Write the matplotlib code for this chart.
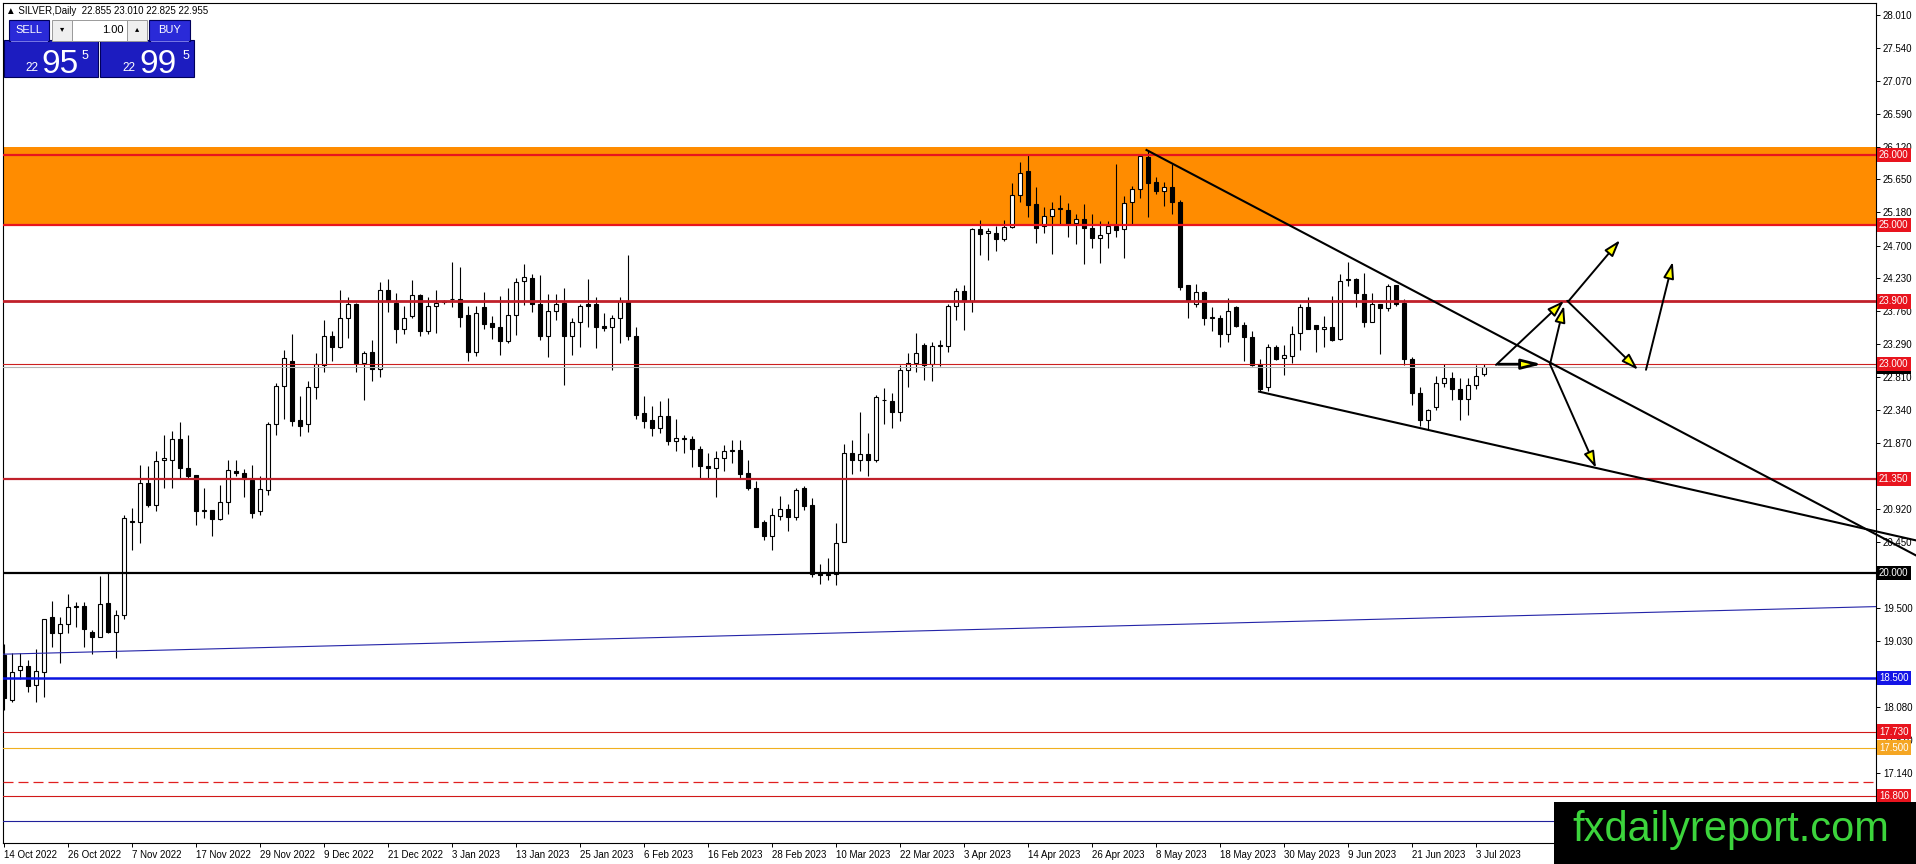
import matplotlib
matplotlib.use('Agg')
import matplotlib.pyplot as plt
from matplotlib.patches import Rectangle
import numpy as np

plt.rcParams['font.family'] = ['Liberation Sans', 'DejaVu Sans']
plt.rcParams['font.size'] = 7

# ---- data (SILVER daily) ----
date_labels = ['14 Oct 2022', '26 Oct 2022', '7 Nov 2022', '17 Nov 2022', '29 Nov 2022',
               '9 Dec 2022', '21 Dec 2022', '3 Jan 2023', '13 Jan 2023', '25 Jan 2023',
               '6 Feb 2023', '16 Feb 2023', '28 Feb 2023', '10 Mar 2023', '22 Mar 2023',
               '3 Apr 2023', '14 Apr 2023', '26 Apr 2023', '8 May 2023', '18 May 2023',
               '30 May 2023', '9 Jun 2023', '21 Jun 2023', '3 Jul 2023']

opens = [
    18.83, 18.18, 18.61, 18.67, 18.40, 18.59, 19.37, 19.15, 19.27, 19.52,
    19.53, 19.16, 19.08, 19.58, 19.16, 19.40, 20.74, 20.73, 21.29, 20.98,
    21.62, 21.62, 21.92, 21.51, 21.41, 20.90, 20.91, 20.78, 21.02, 21.47,
    21.44, 21.34, 20.89, 21.20, 22.14, 22.69, 23.04, 22.20, 22.14, 22.68,
    22.99, 23.40, 23.24, 23.66, 23.86, 23.02, 23.17, 22.93, 24.07, 23.88,
    23.50, 23.69, 23.99, 23.47, 23.84, 23.89, 23.93, 23.93, 23.71, 23.18,
    23.82, 23.59, 23.53, 23.34, 23.70, 24.20, 24.23, 23.86, 23.40, 23.77,
    23.88, 23.40, 23.60, 23.86, 23.86, 23.55, 23.54, 23.66, 23.89, 23.40,
    22.30, 22.20, 22.09, 22.26, 21.90, 21.93, 21.92, 21.79, 21.54, 21.51,
    21.66, 21.75, 21.77, 21.44, 21.23, 20.73, 20.54, 20.82, 20.92, 20.81,
    21.22, 20.98, 20.01, 19.99, 19.99, 20.45, 21.72, 21.62, 21.71, 21.62,
    22.48, 22.47, 22.32, 22.92, 23.02, 23.28, 23.00, 23.26, 23.26, 23.84,
    24.05, 23.90, 24.94, 24.88, 24.88, 24.80, 24.97, 25.43, 25.77, 25.30,
    24.98, 25.12, 25.23, 25.21, 25.03, 25.09, 24.95, 24.81, 24.88, 24.98,
    24.94, 25.32, 25.51, 25.97, 25.62, 25.49, 25.54, 25.32, 24.14, 23.87,
    24.03, 23.67, 23.67, 23.44, 23.82, 23.56, 23.39, 23.00, 22.67, 23.24,
    23.09, 23.12, 23.45, 23.82, 23.56, 23.50, 23.53, 23.36, 24.21, 24.22,
    24.01, 23.60, 23.86, 23.80, 24.14, 23.88, 23.08, 22.58, 22.20, 22.39,
    22.73, 22.80, 22.64, 22.50, 22.70, 22.855]

highs = [
    18.99, 18.86, 18.86, 18.75, 18.92, 19.34, 19.61, 19.37, 19.70, 19.59,
    19.59, 19.19, 19.96, 20.01, 19.47, 20.84, 20.93, 21.56, 21.54, 21.76,
    21.99, 22.04, 22.17, 21.99, 21.41, 21.22, 20.91, 21.27, 21.62, 21.62,
    21.49, 21.56, 21.40, 22.17, 22.73, 23.20, 23.44, 22.55, 22.76, 23.16,
    23.63, 23.47, 24.07, 23.97, 23.88, 23.19, 23.35, 24.18, 24.22, 24.02,
    23.84, 24.21, 24.01, 23.97, 24.07, 23.92, 24.47, 24.39, 23.84, 23.84,
    24.04, 23.69, 23.98, 24.10, 24.23, 24.44, 24.30, 24.28, 24.01, 24.01,
    24.09, 23.67, 23.86, 24.22, 23.97, 23.73, 23.71, 23.97, 24.57, 23.54,
    22.54, 22.40, 22.47, 22.52, 22.22, 21.98, 21.97, 21.83, 21.73, 21.75,
    21.84, 21.91, 21.91, 21.62, 21.33, 20.77, 20.93, 21.11, 21.00, 21.22,
    21.25, 21.08, 20.14, 20.22, 20.72, 21.86, 21.91, 22.32, 22.01, 22.56,
    22.66, 22.58, 22.99, 23.16, 23.45, 23.30, 23.32, 23.35, 23.87, 24.09,
    24.14, 24.96, 25.07, 24.95, 24.98, 25.07, 25.60, 25.90, 26.02, 25.54,
    25.25, 25.32, 25.43, 25.31, 25.16, 25.30, 25.16, 25.06, 25.06, 25.87,
    25.42, 25.56, 26.00, 26.08, 25.68, 25.62, 25.87, 25.35, 24.14, 24.15,
    24.05, 23.82, 23.71, 23.95, 23.84, 23.61, 23.47, 23.08, 23.29, 23.28,
    23.28, 23.55, 23.87, 23.96, 23.56, 23.69, 23.98, 24.29, 24.46, 24.23,
    24.31, 24.02, 23.86, 24.15, 24.14, 23.93, 23.11, 22.68, 22.36, 22.83,
    23.01, 22.89, 22.80, 22.80, 22.99, 23.01]

lows = [
    18.04, 18.16, 18.48, 18.30, 18.16, 18.22, 18.95, 18.72, 19.15, 19.23,
    18.94, 18.84, 19.08, 19.14, 18.78, 19.35, 20.33, 20.43, 20.95, 20.90,
    21.22, 21.23, 21.35, 21.35, 20.69, 20.79, 20.53, 20.77, 20.85, 21.39,
    21.10, 20.80, 20.84, 21.12, 21.99, 22.22, 22.11, 21.97, 22.03, 22.50,
    22.89, 23.04, 23.23, 23.37, 22.89, 22.48, 22.76, 22.81, 23.75, 23.31,
    23.43, 23.67, 23.40, 23.44, 23.45, 23.87, 23.82, 23.53, 23.04, 23.12,
    23.50, 23.36, 23.13, 23.30, 23.42, 23.85, 23.75, 23.35, 23.10, 23.64,
    22.70, 23.13, 23.25, 23.53, 23.23, 23.47, 22.92, 23.30, 23.35, 22.22,
    22.08, 21.97, 22.01, 21.84, 21.76, 21.72, 21.53, 21.35, 21.35, 21.10,
    21.47, 21.58, 21.36, 21.19, 20.66, 20.48, 20.33, 20.76, 20.60, 20.77,
    20.91, 19.95, 19.85, 19.90, 19.83, 20.45, 21.43, 21.47, 21.40, 21.59,
    22.14, 22.08, 22.19, 22.68, 22.89, 22.78, 22.76, 22.97, 23.17, 23.63,
    23.49, 23.75, 24.57, 24.50, 24.63, 24.77, 24.96, 25.33, 25.11, 24.74,
    24.88, 24.58, 25.01, 24.83, 24.73, 24.44, 24.66, 24.45, 24.66, 24.82,
    24.52, 25.01, 25.38, 25.11, 25.44, 25.27, 25.16, 24.07, 23.67, 23.82,
    23.56, 23.47, 23.25, 23.32, 23.54, 23.04, 22.97, 22.61, 22.61, 23.06,
    22.85, 23.02, 23.21, 23.50, 23.18, 23.25, 23.34, 23.35, 24.12, 23.82,
    23.54, 23.60, 23.15, 23.77, 23.83, 22.99, 22.42, 22.11, 22.06, 22.35,
    22.68, 22.49, 22.20, 22.27, 22.64, 22.825]

closes = [
    18.21, 18.59, 18.67, 18.39, 18.60, 19.34, 19.15, 19.28, 19.51, 19.53,
    19.20, 19.08, 19.56, 19.16, 19.40, 20.79, 20.75, 21.29, 20.98, 21.61,
    21.65, 21.92, 21.51, 21.40, 20.89, 20.90, 20.78, 21.02, 21.48, 21.44,
    21.35, 20.87, 21.21, 22.14, 22.69, 23.09, 22.19, 22.12, 22.68, 23.00,
    23.40, 23.24, 23.66, 23.86, 23.02, 23.16, 22.93, 24.07, 23.91, 23.50,
    23.66, 23.99, 23.47, 23.84, 23.88, 23.90, 23.94, 23.68, 23.17, 23.74,
    23.58, 23.53, 23.34, 23.70, 24.18, 24.25, 23.86, 23.40, 23.77, 23.86,
    23.40, 23.60, 23.84, 23.84, 23.54, 23.52, 23.66, 23.90, 23.40, 22.27,
    22.19, 22.09, 22.26, 21.90, 21.94, 21.94, 21.79, 21.54, 21.51, 21.66,
    21.75, 21.76, 21.43, 21.23, 20.67, 20.54, 20.83, 20.92, 20.81, 21.20,
    20.97, 19.99, 19.98, 19.98, 20.44, 21.72, 21.62, 21.71, 21.62, 22.53,
    22.49, 22.32, 22.92, 23.02, 23.16, 22.99, 23.26, 23.27, 23.84, 24.05,
    23.90, 24.94, 24.87, 24.91, 24.80, 24.97, 25.43, 25.75, 25.28, 24.96,
    25.13, 25.22, 25.24, 25.01, 25.09, 24.95, 24.81, 24.86, 24.98, 24.93,
    25.31, 25.51, 25.99, 25.60, 25.48, 25.54, 25.32, 24.11, 23.91, 24.03,
    23.67, 23.68, 23.44, 23.77, 23.55, 23.39, 22.99, 22.65, 23.24, 23.08,
    23.13, 23.44, 23.82, 23.51, 23.51, 23.53, 23.35, 24.20, 24.22, 24.02,
    23.60, 23.86, 23.80, 24.12, 23.87, 23.08, 22.59, 22.20, 22.35, 22.73,
    22.80, 22.64, 22.50, 22.70, 22.83, 22.955]

y_ticks = [28.010, 27.540, 27.070, 26.590, 26.120, 25.650, 25.180, 24.700, 24.230,
           23.760, 23.290, 22.810, 22.340, 21.870, 21.400, 20.920, 20.450, 19.980,
           19.500, 19.030, 18.560, 18.080, 17.610, 17.140, 16.670]
# scale labels that sit under a price tag and are not visible on the chart
hidden_ticks = [21.400, 19.980, 18.560, 16.670]

# horizontal levels drawn on the chart
levels = [26.0, 25.0, 23.9, 23.0, 21.35, 20.0, 18.5, 17.73, 17.5, 17.0, 16.8, 16.45]
bid_price = 22.955
zone = (25.0, 26.12)           # orange supply zone
blue_trend = [(0, 18.84), (192, 19.40)]
upper_trend = [(142.7, 26.08), (178.75, 23.90)]
lower_trend = [(156.75, 22.61), (183.3, 21.92)]
# scenario arrows (bar index, price)
arrows = [((186.5, 22.99), (195.0, 23.91)),
          ((193.25, 23.0), (195.0, 23.84)),
          ((193.25, 23.0), (199.0, 21.51)),
          ((195.4, 23.91), (204.25, 22.92)),
          ((195.6, 23.91), (202.0, 24.78)),
          ((205.25, 22.92), (208.6, 24.47))]
flat_arrow = ((186.75, 23.0), (192.25, 23.0))

# ---- figure ----
W, H = 1916, 864
fig = plt.figure(figsize=(W / 100, H / 100), dpi=100)
fig.patch.set_facecolor('white')

L, R, T, B = 3, 1876, 3, 843      # chart box in pixels
ax = fig.add_axes([L / W, (H - B) / H, (R - L) / W, (B - T) / H])
ax.set_xlim(-0.125, 234.0)
ax.set_ylim(16.131, 28.182)
for s in ax.spines.values():
    s.set_linewidth(0.8)
    s.set_color('black')

# orange zone behind the candles
ax.axhspan(zone[0], zone[1], color='#ff8c00', lw=0, zorder=0.5)

# candles
o = np.array(opens)
h = np.array(highs)
l = np.array(lows)
c = np.array(closes)
x = np.arange(len(o))
up = c >= o
ax.vlines(x, l, h, color='black', lw=0.8, zorder=3)
lo = np.minimum(o, c)
hh = np.maximum(np.abs(c - o), 0.012)
ax.bar(x[up], hh[up], bottom=lo[up], width=0.6, color='white',
       edgecolor='black', linewidth=0.8, zorder=4)
ax.bar(x[~up], hh[~up], bottom=lo[~up], width=0.6, color='black',
       edgecolor='black', linewidth=0.8, zorder=4)

# horizontal lines
level_style = {
    26.0: ('#e8141e', 1.6, '-'),
    25.0: ('#e8141e', 1.6, '-'),
    23.9: ('#c0202a', 2.0, '-'),
    23.0: ('#cc1f1f', 0.8, '-'),
    21.35: ('#c0202a', 1.6, '-'),
    20.0: ('black', 1.6, '-'),
    18.5: ('#0a14e0', 1.8, '-'),
    17.73: ('#d01818', 0.8, '-'),
    17.5: ('#f0b020', 0.8, '-'),
    17.0: ('#e02020', 0.9, (0, (8, 4))),
    16.8: ('#d01818', 0.8, '-'),
    16.45: ('#20209a', 0.8, '-'),
}
for p in levels:
    col, lw, ls = level_style[p]
    ax.axhline(p, color=col, lw=lw, ls=ls, zorder=5)
ax.axhline(bid_price, color='#b4b4b4', lw=0.8, zorder=4.9)

# blue rising trend line
(bx0, by0), (bx1, by1) = blue_trend
bs = (by1 - by0) / (bx1 - bx0)
ax.plot([-1, 240], [by0 + bs * (-1 - bx0), by0 + bs * (240 - bx0)],
        color='#2424a8', lw=0.8, zorder=5)

# black wedge trend lines (rays, running past the price scale)
for (x0, y0), (x1, y1) in (upper_trend, lower_trend):
    sl = (y1 - y0) / (x1 - x0)
    ax.plot([x0, 240], [y0, y0 + sl * (240 - x0)], color='black', lw=1.5,
            zorder=6, clip_on=False, solid_capstyle='butt')

# scenario arrows
for start, end in arrows:
    ax.annotate('', xy=end, xytext=start, zorder=8,
                arrowprops=dict(arrowstyle='-|>,head_length=1.0,head_width=0.32',
                                facecolor='#ffff00', edgecolor='black', lw=1.4,
                                shrinkA=0, shrinkB=0, mutation_scale=10))
ax.annotate('', xy=flat_arrow[1], xytext=flat_arrow[0], zorder=8,
            arrowprops=dict(arrowstyle='-|>,head_length=1.2,head_width=0.3',
                            facecolor='#ffff00', edgecolor='black', lw=2.0,
                            shrinkA=0, shrinkB=0, mutation_scale=10))

# axes ticks
ax.yaxis.tick_right()
ax.set_yticks(y_ticks)
ax.set_yticklabels(['' if v in hidden_ticks else f'{v:.3f}' for v in y_ticks])
ax.tick_params(axis='y', length=3, width=0.7, pad=2, labelsize=7)
ax.set_xticks(np.arange(len(date_labels)) * 8)
ax.set_xticklabels(date_labels, ha='left')
ax.tick_params(axis='x', length=3, width=0.7, pad=2, labelsize=7)

# price tags on the scale
tags = [(bid_price, 'black'), (26.0, '#e8141e'), (25.0, '#e8141e'), (23.9, '#e8141e'),
        (23.0, '#e8141e'), (21.35, '#e8141e'), (20.0, 'black'), (18.5, '#1414e6'),
        (17.73, '#e8141e'), (17.5, '#f5a623'), (16.8, '#e8141e')]
for p, col in tags:
    ax.annotate(f'{p:.3f}', xy=(1.0, p), xycoords=('axes fraction', 'data'),
                xytext=(2.2, 0), textcoords='offset points', ha='left', va='center',
                fontsize=7, color='white', annotation_clip=False, zorder=10,
                bbox=dict(boxstyle='square,pad=0.22', fc=col, ec='none'))

# ---- overlay: title, one-click panel, watermark ----
ui = fig.add_axes([0, 0, 1, 1], zorder=20)
ui.set_xlim(0, W)
ui.set_ylim(H, 0)
ui.axis('off')
ui.patch.set_visible(False)

ui.text(6, 11, '\u25b2 SILVER,Daily  22.855 23.010 22.825 22.955', fontsize=7,
        va='center', ha='left', color='black')

# big price panels
for x0 in (4, 100):
    ui.add_patch(Rectangle((x0, 40), 94, 37, fc='#1c1cc0', ec='#00005a', lw=0.8))
# buttons
for x0, w, lab in ((9, 40, 'SELL'), (149, 41, 'BUY')):
    ui.add_patch(Rectangle((x0, 20), w, 21, fc='#2a2ad8', ec='#00005a', lw=0.8))
    ui.plot([x0 + 2, x0 + w - 2], [41, 41], color='#8c8cff', lw=0.6)
    ui.text(x0 + w / 2, 30, lab, fontsize=8, color='white', ha='center', va='center')
ui.add_patch(Rectangle((52, 20), 20, 21, fc='#efefef', ec='#9a9a9a', lw=0.7))
ui.add_patch(Rectangle((72, 20), 55, 21, fc='white', ec='#9a9a9a', lw=0.7))
ui.add_patch(Rectangle((127, 20), 20, 21, fc='#efefef', ec='#9a9a9a', lw=0.7))
ui.text(62, 30, '\u25be', fontsize=6, ha='center', va='center', color='black')
ui.text(137, 30, '\u25b4', fontsize=6, ha='center', va='center', color='black')
ui.text(124, 30, '1.00', fontsize=8, ha='right', va='center', color='black')

for x_small, x_big, x_sup, big in ((25, 41, 82, '95'), (122, 139, 183, '99')):
    ui.text(x_small, 71, '22', fontsize=8.5, color='white', ha='left', va='baseline')
    ui.text(x_big, 73, big, fontsize=24, color='white', ha='left', va='baseline')
    ui.text(x_sup, 59, '5', fontsize=9, color='white', ha='left', va='baseline')

# watermark
ui.add_patch(Rectangle((1554, 802), W - 1554, H - 802, fc='black', ec='none'))
ui.text(1731, 830, 'fxdailyreport.com', fontsize=30, color='#3cd43c',
        ha='center', va='center')

fig.savefig('out.png', dpi=100)
